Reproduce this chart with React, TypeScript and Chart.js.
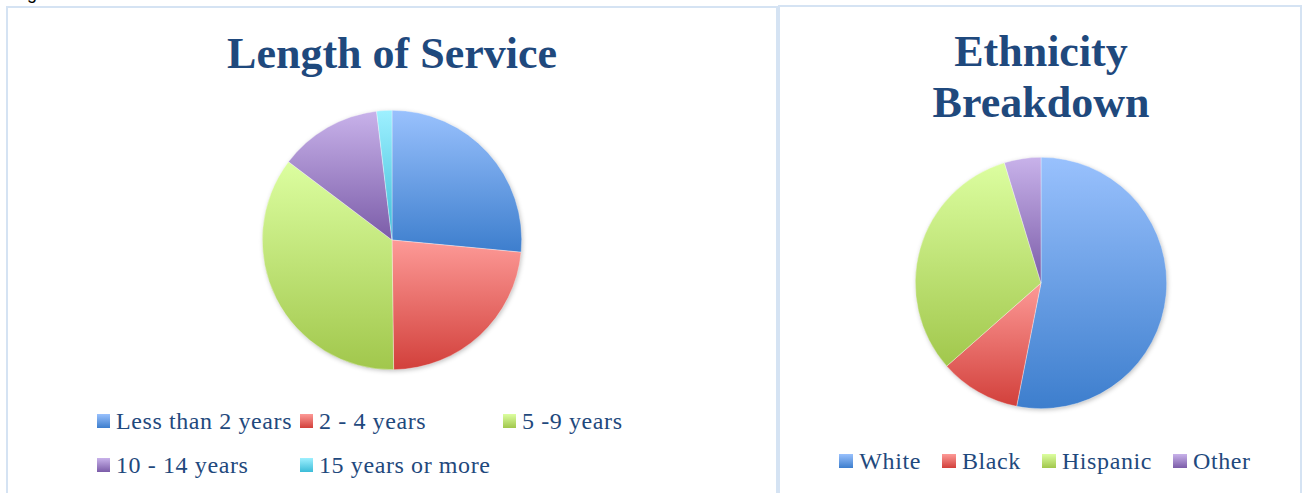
import React, { useEffect, useRef } from "react";
import { Chart, registerables } from "chart.js";

Chart.register(...registerables);

// ---- data ----
const serviceTitle = "Length of Service";
const serviceLabels = ["Less than 2 years", "2 - 4 years", "5 -9 years", "10 - 14 years", "15 years or more"];
const serviceValues = [26.5, 23.3, 35.5, 12.8, 1.9];

const ethnicityTitle = ["Ethnicity", "Breakdown"];
const ethnicityLabels = ["White", "Black", "Hispanic", "Other"];
const ethnicityValues = [53.1, 10.4, 31.8, 4.7];

const lightColors = ["#99c1fd", "#fd9a97", "#dcfea0", "#c8b2ea", "#9ef0ff"];
const darkColors = ["#3d7ecd", "#d2403b", "#a1c74c", "#7b5ca8", "#3cbcd8"];

const TEXT_COLOR = "#1f497d";
const BORDER_COLOR = "#d5e3f3";
const SERIF = '"Liberation Serif", "Times New Roman", serif';

function containsAngle(a: number, start: number, end: number) {
  const TAU = Math.PI * 2;
  for (let k = -2; k <= 2; k++) {
    const t = a + k * TAU;
    if (t >= start && t <= end) return true;
  }
  return false;
}

const gradientPlugin = {
  id: "sliceGradient",
  beforeDatasetsDraw(chart: any) {
    const meta = chart.getDatasetMeta(0);
    const first = meta.data[0];
    if (!first) return;
    const ctx = chart.ctx;
    // soft shadow under the whole pie
    ctx.save();
    ctx.shadowColor = "rgba(0,0,0,0.28)";
    ctx.shadowBlur = 5;
    ctx.shadowOffsetX = 1;
    ctx.shadowOffsetY = 1.5;
    ctx.beginPath();
    ctx.arc(first.x, first.y, first.outerRadius - 0.5, 0, Math.PI * 2);
    ctx.fillStyle = "#ffffff";
    ctx.fill();
    ctx.restore();
  },
  beforeDatasetDraw(chart: any, args: any) {
    const ctx = chart.ctx;
    const meta = args.meta;
    const lights = chart.options.plugins.sliceGradient.lights;
    const darks = chart.options.plugins.sliceGradient.darks;
    meta.data.forEach((arc: any, i: number) => {
      const { x, y, startAngle, endAngle, outerRadius } = arc;
      const ys = [y, y + outerRadius * Math.sin(startAngle), y + outerRadius * Math.sin(endAngle)];
      if (containsAngle(Math.PI / 2, startAngle, endAngle)) ys.push(y + outerRadius);
      if (containsAngle(-Math.PI / 2, startAngle, endAngle)) ys.push(y - outerRadius);
      const minY = Math.min(...ys);
      const maxY = Math.max(...ys);
      const g = ctx.createLinearGradient(0, minY, 0, Math.max(maxY, minY + 1));
      g.addColorStop(0, lights[i]);
      g.addColorStop(1, darks[i]);
      arc.options = Object.assign({}, arc.options, { backgroundColor: g });
    });
  },
};

type PieProps = {
  labels: string[];
  values: number[];
  left: number;
  top: number;
  size: number;
};

function Pie({ labels, values, left, top, size }: PieProps) {
  const ref = useRef<HTMLCanvasElement | null>(null);
  useEffect(() => {
    if (!ref.current) return;
    const chart = new Chart(ref.current, {
      type: "pie",
      data: {
        labels,
        datasets: [
          {
            data: values,
            backgroundColor: darkColors.slice(0, values.length),
            borderWidth: 0.6,
            borderColor: "rgba(255,255,255,0.55)",
          },
        ],
      },
      options: {
        responsive: false,
        animation: false,
        layout: { padding: 10 },
        plugins: {
          legend: { display: false },
          tooltip: { enabled: false },
          title: { display: false },
          sliceGradient: { lights: lightColors, darks: darkColors },
        } as any,
      },
      plugins: [gradientPlugin],
    });
    return () => chart.destroy();
  }, []);
  return (
    <canvas
      ref={ref}
      width={size}
      height={size}
      style={{ position: "absolute", left, top, width: size, height: size }}
    />
  );
}

function LegendItem({ label, index, left, baseline }: { label: string; index: number; left: number; baseline: number }) {
  return (
    <div
      style={{
        position: "absolute",
        left,
        top: baseline - 20,
        height: 24,
        lineHeight: "24px",
        fontFamily: SERIF,
        fontSize: 24,
        letterSpacing: "0.6px",
        color: TEXT_COLOR,
        whiteSpace: "nowrap",
      }}
    >
      <span
        style={{
          position: "absolute",
          left: 0,
          top: 5,
          width: 13,
          height: 14,
          background: `linear-gradient(to bottom, ${lightColors[index]}, ${darkColors[index]})`,
        }}
      />
      <span style={{ position: "absolute", left: 19, top: 0 }}>{label}</span>
    </div>
  );
}

function InlineLegend({ labels, centerX, baseline }: { labels: string[]; centerX: number; baseline: number }) {
  return (
    <div
      style={{
        position: "absolute",
        left: centerX - 300,
        width: 600,
        top: baseline - 20,
        height: 24,
        display: "flex",
        justifyContent: "center",
        fontFamily: SERIF,
        fontSize: 24,
        letterSpacing: "0.6px",
        lineHeight: "24px",
        color: TEXT_COLOR,
        whiteSpace: "nowrap",
      }}
    >
      {labels.map((l, i) => (
        <div key={l} style={{ position: "relative", paddingLeft: 20, marginLeft: i === 0 ? 0 : 21 }}>
          <span
            style={{
              position: "absolute",
              left: 0,
              top: 5,
              width: 14,
              height: 14,
              background: `linear-gradient(to bottom, ${lightColors[i]}, ${darkColors[i]})`,
            }}
          />
          {l}
        </div>
      ))}
    </div>
  );
}

export default function App() {
  const titleStyle: React.CSSProperties = {
    position: "absolute",
    width: 600,
    textAlign: "center",
    fontFamily: SERIF,
    fontWeight: "bold",
    fontSize: 44,
    color: TEXT_COLOR,
    whiteSpace: "nowrap",
  };
  return (
    <div
      style={{
        position: "absolute",
        left: 0,
        top: 0,
        width: 1304,
        height: 493,
        overflow: "hidden",
        background: "#ffffff",
      }}
    >
      <div
        style={{
          position: "absolute",
          left: 27,
          top: -16,
          fontFamily: '"Liberation Sans", Arial, sans-serif',
          fontSize: 18,
          lineHeight: "18px",
          color: "#000",
        }}
      >
        g
      </div>
      {/* left panel */}
      <div
        style={{
          position: "absolute",
          left: 6,
          top: 6,
          width: 768,
          height: 520,
          borderLeft: `2px solid ${BORDER_COLOR}`,
          borderTop: `2px solid ${BORDER_COLOR}`,
          borderRight: `2px solid ${BORDER_COLOR}`,
        }}
      />
      {/* right panel */}
      <div
        style={{
          position: "absolute",
          left: 778,
          top: 5,
          width: 520,
          height: 520,
          borderLeft: `2px solid ${BORDER_COLOR}`,
          borderTop: `2px solid ${BORDER_COLOR}`,
          borderRight: `2px solid ${BORDER_COLOR}`,
        }}
      />

      <div style={{ ...titleStyle, left: 392 - 300, top: 26, lineHeight: "55px" }}>{serviceTitle}</div>
      <div style={{ ...titleStyle, left: 1041 - 300, top: 26, lineHeight: "51px" }}>
        {ethnicityTitle.map((t) => (
          <div key={t}>{t}</div>
        ))}
      </div>

      <Pie labels={serviceLabels} values={serviceValues} left={392 - 140} top={240 - 140} size={280} />
      <Pie labels={ethnicityLabels} values={ethnicityValues} left={1041 - 136} top={283 - 136} size={272} />

      {serviceLabels.map((l, i) => (
        <LegendItem key={l} label={l} index={i} left={97 + (i % 3) * 203} baseline={429 + Math.floor(i / 3) * 44} />
      ))}
      <InlineLegend labels={ethnicityLabels} centerX={1045} baseline={469} />
    </div>
  );
}
